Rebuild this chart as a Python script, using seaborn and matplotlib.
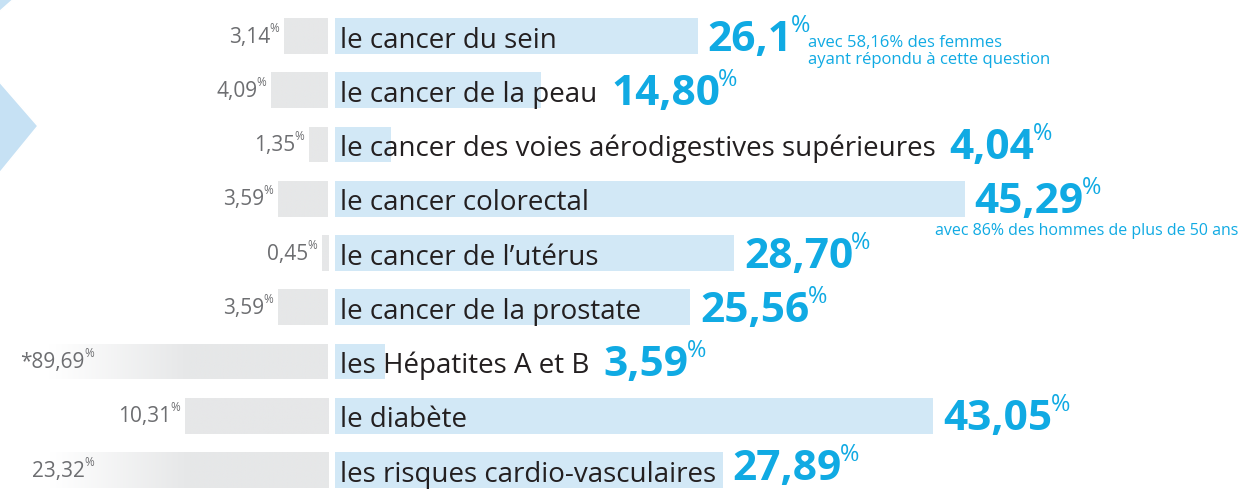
import numpy as np
import pandas as pd
import matplotlib
matplotlib.use("Agg")
import matplotlib.pyplot as plt
import seaborn as sns
from matplotlib.patches import Polygon

# ---------------- data ----------------
categories = [
    "le cancer du sein",
    "le cancer de la peau",
    "le cancer des voies aérodigestives supérieures",
    "le cancer colorectal",
    "le cancer de l’utérus",
    "le cancer de la prostate",
    "les Hépatites A et B",
    "le diabète",
    "les risques cardio-vasculaires",
]
right_values = [26.1, 14.80, 4.04, 45.29, 28.70, 25.56, 3.59, 43.05, 27.89]
right_labels = ["26,1", "14,80", "4,04", "45,29", "28,70", "25,56", "3,59", "43,05", "27,89"]
left_values = [3.14, 4.09, 1.35, 3.59, 0.45, 3.59, 89.69, 10.31, 23.32]
left_labels = ["3,14", "4,09", "1,35", "3,59", "0,45", "3,59", "*89,69", "10,31", "23,32"]
note_rows = [0, 3]
note_texts = ["avec 58,16% des femmes\nayant répondu à cette question",
              "avec 86% des hommes de plus de 50 ans"]

# ---------------- style ----------------
BLUE_BAR = "#d2e8f6"
GREY_BAR = "#e6e7e8"
CYAN = "#10aae3"
DARK = "#231f20"
GREY_TXT = "#6d6e71"
DIAMOND = "#c6e1f4"
FONT = "Open Sans"

sns.set_theme(style="white")
plt.rcParams["font.family"] = [FONT, "DejaVu Sans"]

W, H = 1245, 491
fig = plt.figure(figsize=(W / 100, H / 100), dpi=100)
fig.patch.set_facecolor("white")

PX_PER_UNIT = 13.9
ZERO_L, ZERO_R = 328, 335
axL = fig.add_axes([0, 0, ZERO_L / W, 1])
axR = fig.add_axes([ZERO_R / W, 0, (W - ZERO_R) / W, 1])

df = pd.DataFrame({"cat": categories, "right": right_values, "left": left_values})

sns.barplot(data=df, y="cat", x="right", order=categories, orient="h",
            color=BLUE_BAR, saturation=1, width=0.66, linewidth=0, ax=axR)
sns.barplot(data=df, y="cat", x="left", order=categories, orient="h",
            color=GREY_BAR, saturation=1, width=0.66, linewidth=0, ax=axL)

ylim = (8.387, -0.664)
xmaxR = (W - ZERO_R) / PX_PER_UNIT
xmaxL = ZERO_L / PX_PER_UNIT

# gradient fade on the left (grey -> white) for long bars
grey_rgb = np.array(matplotlib.colors.to_rgb(GREY_BAR))
xs = np.linspace(0, xmaxL, 400)
t = np.clip((xs - 10.0) / (20.0 - 10.0), 0, 1)[:, None]
grad = grey_rgb[None, :] * (1 - t) + np.ones(3)[None, :] * t
grad = grad[None, :, :]
for p in list(axL.patches):
    y0, h = p.get_y(), p.get_height()
    im = axL.imshow(grad, extent=(0, xmaxL, y0 + h, y0), aspect="auto",
                    interpolation="bilinear", zorder=p.get_zorder() + 0.1)
    im.set_clip_path(p)

for ax in (axL, axR):
    ax.set_ylim(*ylim)
    ax.set_aspect("auto")
    ax.axis("off")
axR.set_xlim(0, xmaxR)
axL.set_xlim(xmaxL, 0)

# decorative diamond on the left edge
def fpt(x, y):
    return (x / W, 1 - y / H)

fig.patches.append(Polygon([fpt(-2, 80), fpt(38, 126), fpt(-2, 175)], closed=True,
                           transform=fig.transFigure, facecolor=DIAMOND,
                           edgecolor="white", linewidth=1.2, zorder=0))
fig.patches.append(Polygon([fpt(-2, -2), fpt(15, -2), fpt(-2, 13)], closed=True,
                           transform=fig.transFigure, facecolor=DIAMOND,
                           edgecolor="white", linewidth=1.2, zorder=0))

# row labels inside blue bars
row_texts = []
for i, cat in enumerate(categories):
    tx = axR.annotate(cat, xy=(0, i), xytext=(5, -1), textcoords="offset pixels",
                      ha="left", va="center_baseline", fontsize=20, color=DARK,
                      annotation_clip=False)
    row_texts.append(tx)

fig.canvas.draw()
renderer = fig.canvas.get_renderer()

# big blue values
num_texts = []
for i, (v, lbl) in enumerate(zip(right_values, right_labels)):
    label_end = row_texts[i].get_window_extent(renderer).x1
    bar_end = axR.transData.transform((v, i))[0]
    x_px = max(bar_end + 10, label_end + 14)
    x_data = axR.transData.inverted().transform((x_px, 0))[0]
    num = axR.annotate(lbl, xy=(x_data, i), xytext=(0, 1), textcoords="offset pixels",
                       ha="left", va="center_baseline", fontsize=30.5, fontweight="bold",
                       color=CYAN, annotation_clip=False)
    # keep the whole text inside the picture
    bb = num.get_window_extent(renderer)
    if bb.y0 < 1:
        num.set_position((0, 1 + (1 - bb.y0)))
    pct = axR.annotate("%", xy=(1, 1), xycoords=num, xytext=(-2, 6),
                       textcoords="offset pixels", ha="left", va="top",
                       fontsize=17, color=CYAN, annotation_clip=False)
    num_texts.append((num, pct))

# notes
for r, note in zip(note_rows, note_texts):
    num, pct = num_texts[r]
    if r == 0:
        axR.annotate(note, xy=(1, 0.35), xycoords=pct, xytext=(-2, -6),
                     textcoords="offset pixels", ha="left", va="top",
                     fontsize=12, color=CYAN, linespacing=1.1, annotation_clip=False)
    else:
        axR.annotate(note, xy=(0, 0), xycoords=num, xytext=(-40, 0),
                     textcoords="offset pixels", ha="left", va="top",
                     fontsize=11.5, color=CYAN, annotation_clip=False)

# grey left labels
for i, (v, lbl) in enumerate(zip(left_values, left_labels)):
    anchor = min(v, 16.5)
    pct = axL.annotate("%", xy=(anchor, i), xytext=(-5, 8), textcoords="offset pixels",
                       ha="right", va="center", fontsize=8.5, color=GREY_TXT,
                       annotation_clip=False)
    axL.annotate(lbl, xy=(0, 0.5), xycoords=pct, xytext=(1, -9),
                 textcoords="offset pixels", ha="right", va="center",
                 fontsize=15, color=GREY_TXT, annotation_clip=False)

fig.savefig("out.png", dpi=100, facecolor="white")
